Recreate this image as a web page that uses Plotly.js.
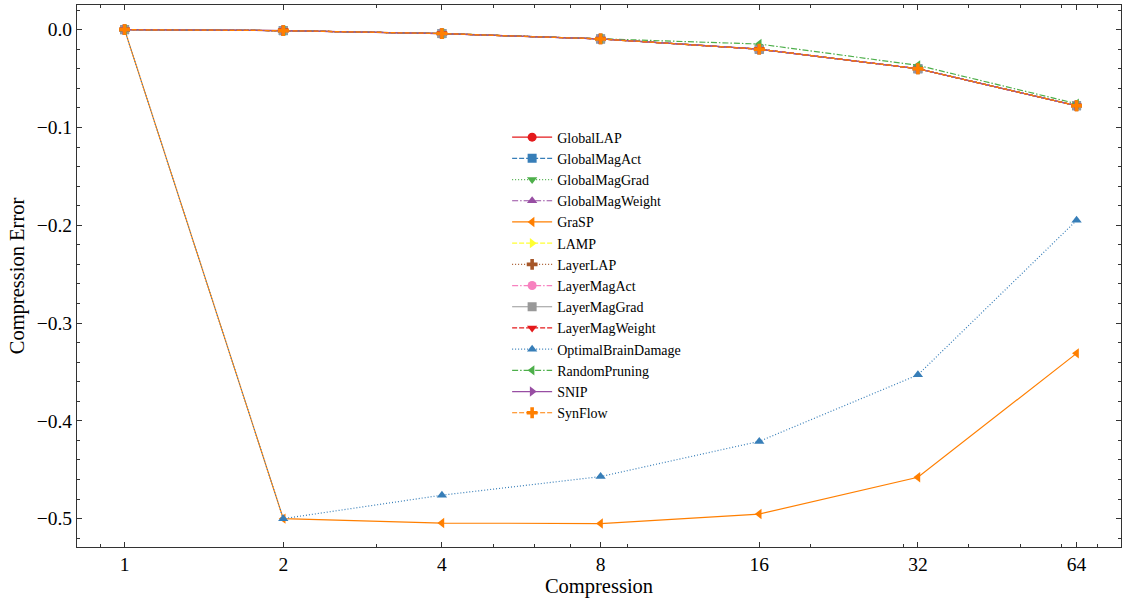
<!DOCTYPE html>
<html>
<head>
<meta charset="utf-8">
<script src="https://cdn.plot.ly/plotly-3.0.1.min.js"></script>
<style>html,body{margin:0;padding:0;background:#fff;}#chart{width:1122px;height:598px;}</style>
</head>
<body>
<div id="chart"></div>
<script>
// Data
const compression = [1, 2, 4, 8, 16, 32, 64];
const xTickLabels = ["1", "2", "4", "8", "16", "32", "64"];

const methods = ["GlobalLAP", "GlobalMagAct", "GlobalMagGrad", "GlobalMagWeight", "GraSP", "LAMP",
  "LayerLAP", "LayerMagAct", "LayerMagGrad", "LayerMagWeight", "OptimalBrainDamage", "RandomPruning", "SNIP", "SynFlow"];

const globalLAP       = [0, -0.001, -0.004, -0.0095, -0.020, -0.040, -0.0778];
const globalMagAct    = [0, -0.001, -0.004, -0.0095, -0.020, -0.040, -0.0778];
const globalMagGrad   = [0, -0.001, -0.004, -0.0095, -0.020, -0.040, -0.0778];
const globalMagWeight = [0, -0.001, -0.004, -0.0095, -0.020, -0.040, -0.0778];
const graSP           = [0, -0.500, -0.5045, -0.505, -0.4953, -0.4577, -0.331];
const lamp            = [0, -0.001, -0.004, -0.0095, -0.020, -0.040, -0.0778];
const layerLAP        = [0, -0.001, -0.004, -0.0095, -0.020, -0.040, -0.0778];
const layerMagAct     = [0, -0.001, -0.004, -0.0095, -0.020, -0.040, -0.0778];
const layerMagGrad    = [0, -0.001, -0.004, -0.0095, -0.020, -0.040, -0.0778];
const layerMagWeight  = [0, -0.001, -0.004, -0.0095, -0.020, -0.040, -0.0778];
const optimalBrainDamage = [0, -0.500, -0.476, -0.457, -0.421, -0.353, -0.195];
const randomPruning   = [0, -0.001, -0.004, -0.0092, -0.0147, -0.0365, -0.0757];
const snip            = [0, -0.001, -0.004, -0.0095, -0.020, -0.040, -0.0778];
const synFlow         = [0, -0.001, -0.004, -0.0095, -0.020, -0.040, -0.0778];

const seriesValues = [globalLAP, globalMagAct, globalMagGrad, globalMagWeight, graSP, lamp,
  layerLAP, layerMagAct, layerMagGrad, layerMagWeight, optimalBrainDamage, randomPruning, snip, synFlow];

// Styles
const palette = ["#e41a1c", "#377eb8", "#4daf4a", "#984ea3", "#ff7f00", "#ffff33", "#a65628", "#f781bf", "#999999"];
const dashes = ["solid", "5px,2px", "1px,2px", "6px,2px,1.5px,2px"];
const symbols = ["circle", "square", "triangle-down", "triangle-up", "triangle-left", "triangle-right", "cross"];

const traces = methods.map((name, i) => ({
  type: "scatter",
  mode: "lines+markers",
  name: name,
  x: compression,
  y: seriesValues[i],
  line: {color: palette[i % palette.length], width: 1.2, dash: dashes[i % dashes.length]},
  marker: {color: palette[i % palette.length], symbol: symbols[i % symbols.length], size: 9, line: {width: 0}}
}));

const serif = "Liberation Serif, Times New Roman, serif";
const tickFont = {family: serif, size: 19.5, color: "#000"};
const titleFont = {family: serif, size: 20.5, color: "#000"};

const layout = {
  width: 1122,
  height: 598,
  margin: {l: 77, r: 1, t: 5, b: 51},
  paper_bgcolor: "#fff",
  plot_bgcolor: "#fff",
  font: tickFont,
  showlegend: true,
  legend: {
    x: 0.412, y: 0.785, xanchor: "left", yanchor: "top",
    bgcolor: "rgba(255,255,255,0)",
    font: {family: serif, size: 14, color: "#000"},
    tracegroupgap: 0,
    itemwidth: 40
  },
  xaxis: {
    type: "log",
    range: [Math.log10(2 ** -0.30), Math.log10(2 ** 6.28)],
    tickmode: "array",
    tickvals: compression,
    ticktext: xTickLabels,
    ticks: "inside",
    ticklen: 5,
    tickwidth: 1,
    tickcolor: "#333",
    showline: true,
    linecolor: "#333",
    linewidth: 1,
    mirror: "ticks",
    showgrid: false,
    zeroline: false,
    tickfont: tickFont,
    title: {text: "Compression", font: titleFont, standoff: 3},
    minor: {tickmode: "array", tickvals: [0.9, 3, 5, 6, 7, 9, 20, 30, 40, 50, 60, 70], ticks: "inside", ticklen: 3, tickwidth: 1, tickcolor: "#333", showgrid: false}
  },
  yaxis: {
    range: [-0.529, 0.0252],
    tickmode: "linear",
    tick0: 0,
    dtick: 0.1,
    tickformat: ".1f",
    ticks: "inside",
    ticklen: 5,
    tickwidth: 1,
    tickcolor: "#333",
    showline: true,
    linecolor: "#333",
    linewidth: 1,
    mirror: "ticks",
    showgrid: false,
    zeroline: false,
    tickfont: tickFont,
    title: {text: "Compression Error", font: titleFont, standoff: 6},
    minor: {tickmode: "linear", tick0: 0, dtick: 0.02, ticks: "inside", ticklen: 3, tickwidth: 1, tickcolor: "#333", showgrid: false}
  }
};

Plotly.newPlot("chart", traces, layout, {displayModeBar: false, staticPlot: true});
</script>
</body>
</html>
